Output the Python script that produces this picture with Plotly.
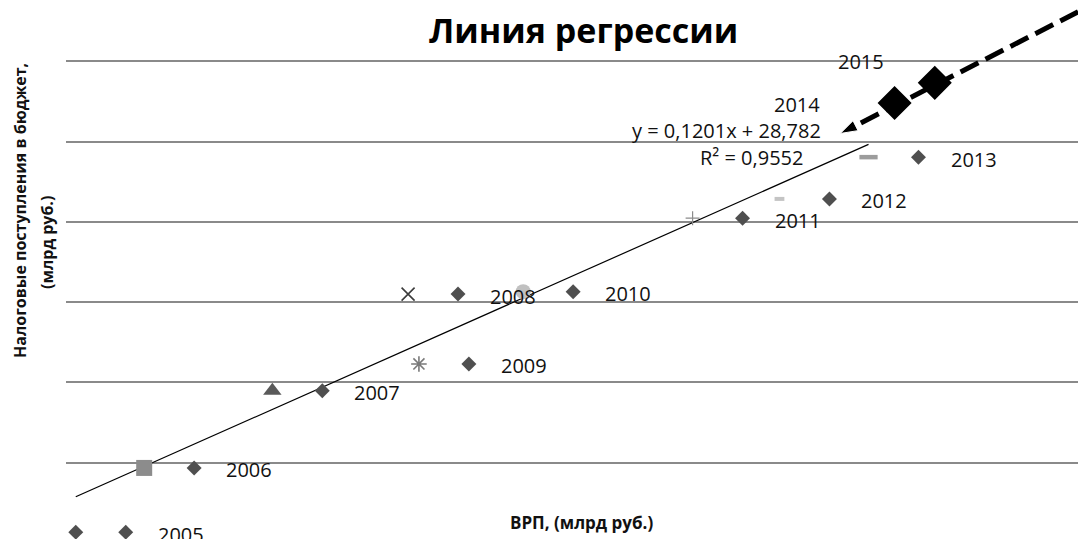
import numpy as np
import plotly.graph_objects as go

# ---------------- data ----------------
YEARS = ["2005", "2006", "2007", "2008", "2009", "2010", "2011", "2012", "2013", "2014", "2015"]
GRP = [23, 86, 204, 329, 339, 435, 591, 671, 753, 777, 814]            # ВРП, млрд руб.
TAX = [22.7, 38.7, 57.9, 82.0, 64.6, 82.6, 100.9, 105.7, 116.1, 129.6, 134.6]  # налоговые поступления
FIT_YEARS = 9                       # trend fitted on 2005-2013
FORECAST_X = [946, 727]             # forecast arrow (drawn towards lower-left)
FORECAST_Y = [152.3, 122.0]
EQUATION = "y = 0,1201x + 28,782"
R2_TEXT = "R² = 0,9552"
TITLE = "Линия регрессии"
X_TITLE = "ВРП, (млрд руб.)"
Y_TITLE_1 = "Налоговые поступления в бюджет,"
Y_TITLE_2 = "(млрд руб.)"

# ---------------- styles ----------------
SYMBOLS = ["diamond", "square", "triangle-up", "x-thin-open", "asterisk-open", "circle",
           "cross-thin-open", "line-ew-open", "line-ew-open", "diamond", "diamond"]
COLORS = ["#4f4f4f", "#8c8c8c", "#5a5a5a", "#3c3c3c", "#7a7a7a", "#c0c0c0",
          "#8c8c8c", "#c4c4c4", "#9c9c9c", "#000000", "#000000"]
SIZES = [11.5, 16, 16, 13, 13, 15, 10, 7, 13, 24, 24]
LINE_W = [0, 0, 0, 1.6, 1.6, 0, 1.2, 4, 4.5, 2, 2]
KEY_DX = 46.0
FONT = "Open Sans"

fig = go.Figure()

# trend line computed from the data
fx = np.array(GRP[:FIT_YEARS], dtype=float)
fy = np.array(TAX[:FIT_YEARS], dtype=float)
k, b = np.polyfit(fx, fy, 1)
tx = np.array([fx.min(), fx.max()])
fig.add_trace(go.Scatter(x=tx, y=k * tx + b, mode="lines",
                         line=dict(color="black", width=1.2), hoverinfo="skip"))

# forecast dashed arrow
fig.add_trace(go.Scatter(
    x=FORECAST_X, y=FORECAST_Y, mode="lines+markers",
    line=dict(color="black", width=5, dash="20px,8px"),
    marker=dict(symbol=["circle", "arrow"], size=[0, 18], color="black",
                angleref="previous", opacity=1),
    hoverinfo="skip"))

# legend-key diamonds next to each point
fig.add_trace(go.Scatter(
    x=[g + KEY_DX for g in GRP[:FIT_YEARS]], y=TAX[:FIT_YEARS], mode="markers",
    marker=dict(symbol="diamond", size=11.5, color="#4f4f4f", opacity=1), hoverinfo="skip"))

# data points
fig.add_trace(go.Scatter(
    x=GRP, y=TAX, mode="markers", text=YEARS,
    marker=dict(symbol=SYMBOLS, size=SIZES, color=COLORS, opacity=1,
                line=dict(color=COLORS, width=LINE_W))))

annotations = []
for i, yr in enumerate(YEARS):
    if i < FIT_YEARS:
        annotations.append(dict(x=GRP[i], y=TAX[i], xref="x", yref="y", text=yr,
                                showarrow=False, xanchor="left", xshift=80, yshift=-2,
                                font=dict(family=FONT, size=20, color="#111")))
    elif yr == "2014":
        annotations.append(dict(x=GRP[i], y=TAX[i], xref="x", yref="y", text=yr,
                                showarrow=False, xanchor="right", xshift=-73, yshift=-2,
                                font=dict(family=FONT, size=20, color="#111")))
    else:
        annotations.append(dict(x=GRP[i], y=TAX[i], xref="x", yref="y", text=yr,
                                showarrow=False, xanchor="left", xshift=-99, yshift=21,
                                font=dict(family=FONT, size=20, color="#111")))

annotations += [
    dict(x=0.748, y=0.7588, xref="paper", yref="paper", text=EQUATION, showarrow=False,
         xanchor="right", yanchor="middle", font=dict(family=FONT, size=20, color="#111")),
    dict(x=0.730, y=0.7087, xref="paper", yref="paper", text=R2_TEXT, showarrow=False,
         xanchor="right", yanchor="middle", font=dict(family=FONT, size=20, color="#111")),
    dict(x=0.511, y=0.944, xref="paper", yref="paper", text="<b>" + TITLE + "</b>",
         showarrow=False, xanchor="center", yanchor="middle",
         font=dict(family=FONT, size=34, color="#000")),
    dict(x=0.509, y=0.0315, xref="paper", yref="paper", text="<b>" + X_TITLE + "</b>",
         showarrow=False, xanchor="center", yanchor="middle",
         font=dict(family=FONT, size=17, color="#111")),
    dict(x=-0.0455, y=0.6104, xref="paper", yref="paper", text="<b>" + Y_TITLE_1 + "</b>",
         showarrow=False, xanchor="center", yanchor="middle", textangle=-90,
         font=dict(family=FONT, size=16, color="#111")),
    dict(x=-0.0188, y=0.551, xref="paper", yref="paper", text="<b>" + Y_TITLE_2 + "</b>",
         showarrow=False, xanchor="center", yanchor="middle", textangle=-90,
         font=dict(family=FONT, size=16, color="#111")),
]

fig.update_layout(
    width=1078, height=539,
    margin=dict(l=66, r=0, t=0, b=0),
    paper_bgcolor="white", plot_bgcolor="white",
    showlegend=False,
    annotations=annotations,
    xaxis=dict(range=[14, 945.9], showgrid=False, zeroline=False, showticklabels=False,
               showline=False, ticks=""),
    yaxis=dict(range=[21.0, 155.24], tick0=40, dtick=20, showgrid=True,
               gridcolor="#8a8a8a", gridwidth=1.6, zeroline=False,
               showticklabels=False, showline=False, ticks=""),
)

fig.write_html("out.html", config={"displayModeBar": False},
               post_script="document.body.style.margin='0';document.body.style.padding='0';"
                           "document.body.style.overflow='hidden';")
